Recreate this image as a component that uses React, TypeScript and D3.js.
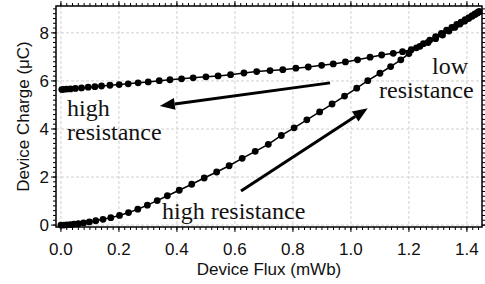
import React from "react";
import * as d3 from "d3";

// rising branch (low -> high charge)
const upX = [0.0, 0.01, 0.02, 0.032, 0.045, 0.06, 0.078, 0.098, 0.12, 0.145, 0.172, 0.202, 0.233, 0.265, 0.298, 0.332, 0.367, 0.408, 0.451, 0.494, 0.537, 0.58, 0.625, 0.67, 0.715, 0.76, 0.804, 0.848, 0.892, 0.935, 0.978, 1.02, 1.058, 1.1, 1.137, 1.172, 1.2, 1.226, 1.25, 1.272, 1.292, 1.312, 1.33, 1.348, 1.365, 1.38, 1.394, 1.407, 1.418, 1.428, 1.436, 1.442];
const upY = [0.0, 0.0, 0.01, 0.02, 0.04, 0.06, 0.09, 0.13, 0.18, 0.24, 0.31, 0.4, 0.52, 0.66, 0.83, 1.02, 1.22, 1.45, 1.7, 1.96, 2.21, 2.47, 2.78, 3.07, 3.36, 3.73, 4.05, 4.38, 4.71, 5.04, 5.37, 5.7, 6.01, 6.32, 6.6, 6.88, 7.14, 7.38, 7.55, 7.7, 7.84, 7.98, 8.11, 8.23, 8.35, 8.45, 8.55, 8.64, 8.72, 8.79, 8.84, 8.88];

// returning branch
const downX = [1.442, 1.436, 1.428, 1.418, 1.406, 1.392, 1.376, 1.358, 1.338, 1.316, 1.292, 1.266, 1.238, 1.208, 1.178, 1.146, 1.106, 1.066, 1.023, 0.981, 0.939, 0.899, 0.853, 0.81, 0.765, 0.721, 0.675, 0.631, 0.585, 0.542, 0.5, 0.456, 0.416, 0.376, 0.339, 0.301, 0.266, 0.232, 0.201, 0.169, 0.14, 0.117, 0.094, 0.071, 0.05, 0.033, 0.02, 0.01, 0.003];
const downY = [8.88, 8.83, 8.77, 8.69, 8.6, 8.49, 8.37, 8.23, 8.08, 7.91, 7.76, 7.6, 7.44, 7.3, 7.22, 7.15, 7.08, 6.99, 6.88, 6.79, 6.71, 6.65, 6.58, 6.53, 6.47, 6.43, 6.39, 6.33, 6.26, 6.21, 6.17, 6.13, 6.09, 6.05, 6.01, 5.96, 5.92, 5.88, 5.85, 5.82, 5.79, 5.76, 5.74, 5.71, 5.69, 5.67, 5.66, 5.65, 5.64];

const xTicks = [0, 0.2, 0.4, 0.6, 0.8, 1.0, 1.2, 1.4];
const yTicks = [0, 2, 4, 6, 8];

// annotation arrows [fromX, fromY, toX, toY] in data units
const arrows = [
  [0.928, 5.92, 0.341, 4.96],
  [0.621, 1.42, 1.058, 4.86],
];

const W = 485;
const H = 284;
const L = 56, R = 482, T = 6, B = 227;

export default function App() {
  const x = d3.scaleLinear().domain([-0.017, 1.452]).range([L, R]);
  const y = d3.scaleLinear().domain([-0.08, 9.12]).range([B, T]);

  const xMinor = d3.range(0, 1.4501, 0.02);
  const yMinor = d3.range(0, 9.11, 0.2);

  const path = (xs: number[], ys: number[]) =>
    d3
      .line<[number, number]>()
      .x((d) => x(d[0]))
      .y((d) => y(d[1]))(xs.map((v, i) => [v, ys[i]]) as [number, number][]) || "";

  const font = "'Liberation Sans', Arial, sans-serif";
  const serif = "'Liberation Serif', 'Times New Roman', serif";

  return (
    <svg width={W} height={H} style={{ position: "absolute", left: 0, top: 0, background: "#fff" }}>
      {/* grid */}
      <g stroke="#d0d0d0" strokeDasharray="3,2" strokeWidth={1}>
        {xTicks.map((t) => (
          <line key={"gx" + t} x1={x(t)} x2={x(t)} y1={T} y2={B} />
        ))}
        {yTicks.map((t) => (
          <line key={"gy" + t} x1={L} x2={R} y1={y(t)} y2={y(t)} />
        ))}
      </g>

      {/* ticks, all four sides */}
      <g stroke="#000" strokeWidth={1}>
        {xMinor.map((t, i) => (
          <g key={"mx" + i}>
            <line x1={x(t)} x2={x(t)} y1={B} y2={B + 3} />
            <line x1={x(t)} x2={x(t)} y1={T} y2={T - 3} />
          </g>
        ))}
        {yMinor.map((t, i) => (
          <g key={"my" + i}>
            <line x1={L} x2={L - 3} y1={y(t)} y2={y(t)} />
            <line x1={R} x2={R + 3} y1={y(t)} y2={y(t)} />
          </g>
        ))}
        {xTicks.map((t) => (
          <g key={"Mx" + t}>
            <line x1={x(t)} x2={x(t)} y1={B} y2={B + 5} />
            <line x1={x(t)} x2={x(t)} y1={T} y2={T - 5} />
          </g>
        ))}
        {yTicks.map((t) => (
          <g key={"My" + t}>
            <line x1={L} x2={L - 5} y1={y(t)} y2={y(t)} />
            <line x1={R} x2={R + 5} y1={y(t)} y2={y(t)} />
          </g>
        ))}
      </g>

      {/* frame */}
      <rect x={L} y={T} width={R - L} height={B - T} fill="none" stroke="#000" strokeWidth={1.5} />

      {/* tick labels */}
      <g fontFamily={font} fontSize={17} fill="#111">
        {xTicks.map((t) => (
          <text key={"lx" + t} x={x(t)} y={255} textAnchor="middle">
            {d3.format(".1f")(t)}
          </text>
        ))}
        {yTicks.map((t) => (
          <text key={"ly" + t} x={49} y={y(t)} dy="0.36em" textAnchor="end">
            {t}
          </text>
        ))}
      </g>

      {/* axis titles */}
      <text x={(L + R) / 2} y={275} textAnchor="middle" fontFamily={font} fontSize={17} fill="#111">
        Device Flux (mWb)
      </text>
      <text
        transform={`translate(29,${(T + B) / 2}) rotate(-90)`}
        textAnchor="middle"
        fontFamily={font}
        fontSize={17}
        fill="#111"
      >
        Device Charge (μC)
      </text>

      {/* data */}
      <g>
        <path d={path(upX, upY)} fill="none" stroke="#000" strokeWidth={1.5} />
        <path d={path(downX, downY)} fill="none" stroke="#000" strokeWidth={1.5} />
        {upX.map((v, i) => (
          <circle key={"u" + i} cx={x(v)} cy={y(upY[i])} r={3.4} fill="#000" />
        ))}
        {downX.map((v, i) => (
          <circle key={"d" + i} cx={x(v)} cy={y(downY[i])} r={3.4} fill="#000" />
        ))}
      </g>

      {/* arrows */}
      {arrows.map((a, i) => {
        const x1 = x(a[0]), y1 = y(a[1]), x2 = x(a[2]), y2 = y(a[3]);
        const ang = Math.atan2(y2 - y1, x2 - x1);
        const len = 15, hw = 6;
        const bx = x2 - len * Math.cos(ang), by = y2 - len * Math.sin(ang);
        const px = -Math.sin(ang) * hw, py = Math.cos(ang) * hw;
        return (
          <g key={"a" + i}>
            <line x1={x1} y1={y1} x2={bx} y2={by} stroke="#000" strokeWidth={3} />
            <polygon points={`${x2},${y2} ${bx + px},${by + py} ${bx - px},${by - py}`} fill="#000" />
          </g>
        );
      })}

      {/* annotations */}
      <g fontFamily={serif} fontSize={24} fill="#111">
        <text x={67} y={116}>high</text>
        <text x={67} y={140}>resistance</text>
        <text x={432} y={74}>low</text>
        <text x={379} y={98}>resistance</text>
        <text x={162} y={219}>high resistance</text>
      </g>
    </svg>
  );
}
